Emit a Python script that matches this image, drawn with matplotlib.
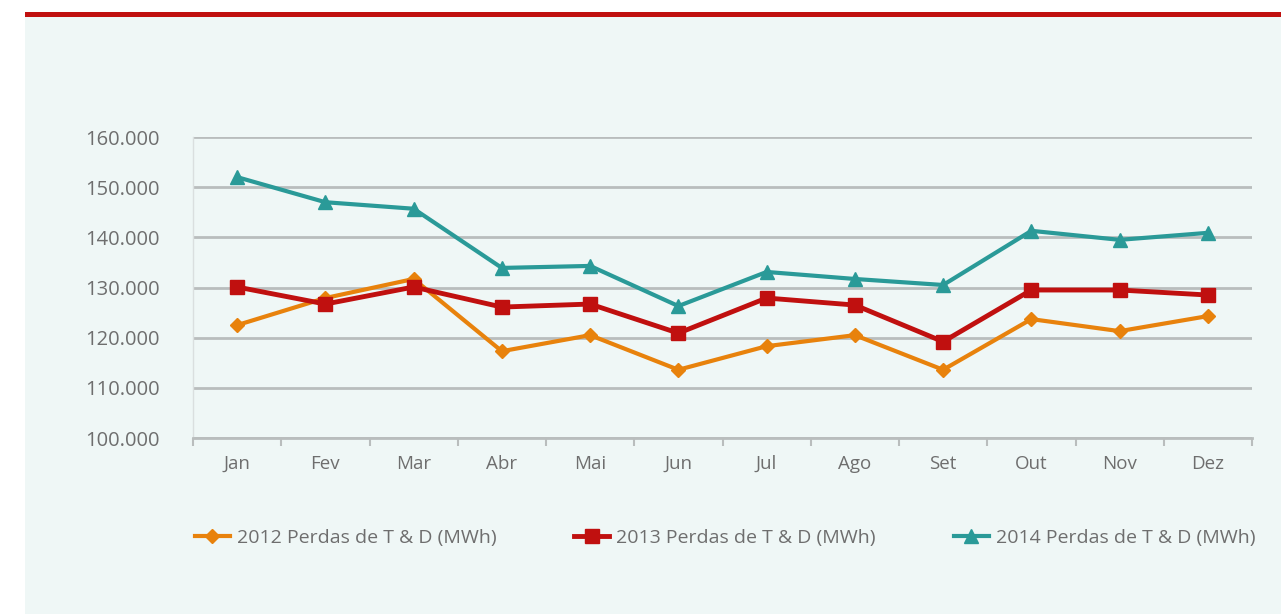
import matplotlib
matplotlib.use("Agg")
import matplotlib.pyplot as plt
from matplotlib.patches import Rectangle
from matplotlib.ticker import FuncFormatter, FixedLocator

months = ["Jan", "Fev", "Mar", "Abr", "Mai", "Jun", "Jul", "Ago", "Set", "Out", "Nov", "Dez"]
perdas_2012 = [122500, 127900, 131700, 117300, 120500, 113600, 118300, 120500, 113600, 123700, 121300, 124300]
perdas_2013 = [130100, 126700, 130100, 126100, 126700, 120900, 127900, 126500, 119200, 129500, 129500, 128500]
perdas_2014 = [152000, 147000, 145700, 133900, 134300, 126300, 133100, 131700, 130500, 141300, 139500, 140900]
labels = ["2012 Perdas de T & D (MWh)", "2013 Perdas de T & D (MWh)", "2014 Perdas de T & D (MWh)"]

plt.rcParams['font.family'] = ['Open Sans', 'DejaVu Sans']

W, H = 1281, 614
fig = plt.figure(figsize=(W / 100, H / 100), dpi=100)
fig.patch.set_facecolor("white")

# light panel and red top bar
fig.add_artist(Rectangle((25 / W, 0), 1 - 25 / W, 1 - 17 / H, transform=fig.transFigure,
                         facecolor="#EFF7F6", edgecolor="none", zorder=0))
fig.add_artist(Rectangle((25 / W, 1 - 17 / H), 1 - 25 / W, 5 / H, transform=fig.transFigure,
                         facecolor="#C0100F", edgecolor="none", zorder=1))

ax_left, ax_right = 193 / W, 1252 / W
ax_top, ax_bottom = 1 - 137 / H, 1 - 438 / H
ax = fig.add_axes([ax_left, ax_bottom, ax_right - ax_left, ax_top - ax_bottom])
ax.set_facecolor("none")

x = list(range(len(months)))
ax.plot(x, perdas_2012, color="#E8820C", lw=3, marker="D", ms=7, label=labels[0], zorder=3)
ax.plot(x, perdas_2013, color="#C0100F", lw=3.5, marker="s", ms=10, label=labels[1], zorder=4)
ax.plot(x, perdas_2014, color="#2A9A98", lw=3, marker="^", ms=10, label=labels[2], zorder=5)

ax.set_xlim(-0.5, 11.5)
ax.set_ylim(100000, 160000)
ax.set_yticks(range(100000, 160001, 10000))
ax.yaxis.set_major_formatter(FuncFormatter(lambda v, p: f"{int(v):,}".replace(",", ".")))
ax.grid(axis="y", color="#B9BDBD", lw=2, zorder=1)
ax.set_axisbelow(True)

ax.set_xticks(x)
ax.set_xticklabels(months)
ax.xaxis.set_minor_locator(FixedLocator([i - 0.5 for i in range(13)]))
ax.tick_params(axis="x", which="major", length=0, pad=12, labelsize=13.5, labelcolor="#6E6E6E")
ax.tick_params(axis="x", which="minor", length=6, width=1.5, color="#B9BDBD", direction="out")
ax.tick_params(axis="y", length=0, pad=24, labelsize=14.5, labelcolor="#6E6E6E")

for s in ["top", "right"]:
    ax.spines[s].set_visible(False)
ax.spines["left"].set_color("#DADFDF")
ax.spines["left"].set_linewidth(1)
ax.spines["bottom"].set_color("#B9BDBD")
ax.spines["bottom"].set_linewidth(2)

leg = fig.legend(loc="center", bbox_to_anchor=(0.566, 1 - 538 / H), ncol=3, frameon=False,
                 fontsize=14, columnspacing=4.0, handlelength=1.8, handletextpad=0.36,
                 labelcolor="#6E6E6E")

fig.savefig("out.png", dpi=100, facecolor=fig.get_facecolor())
